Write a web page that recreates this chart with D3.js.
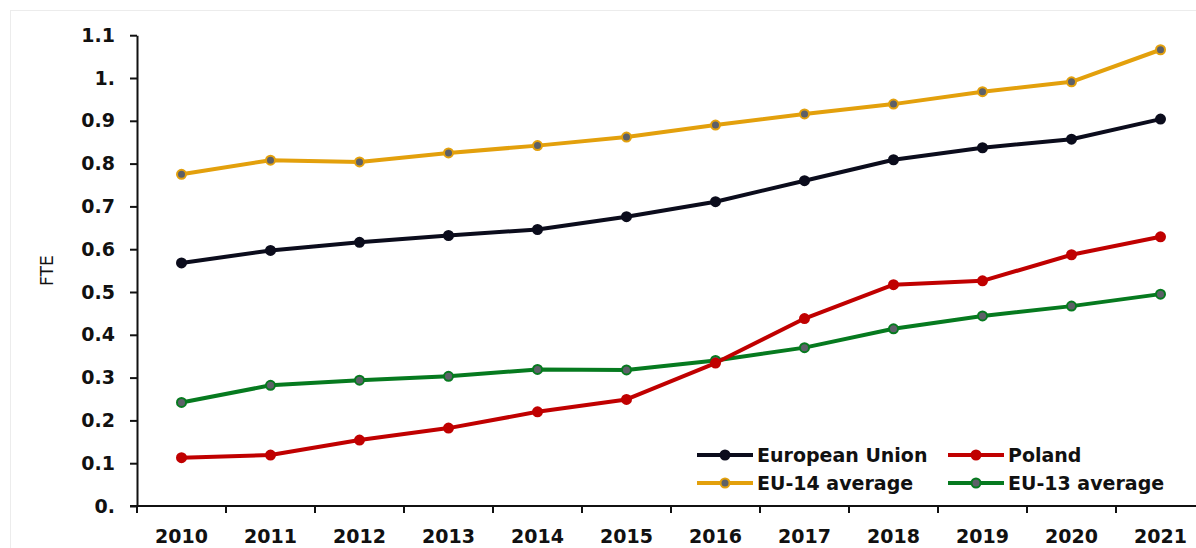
<!DOCTYPE html>
<html>
<head>
<meta charset="utf-8">
<script src="https://cdn.jsdelivr.net/npm/d3@7"></script>
<style>
  html, body { margin: 0; padding: 0; background: #fff; }
  svg { display: block; font-family: 'DejaVu Sans', sans-serif; }
</style>
</head>
<body>
<div class="chart"></div>
<script>
'use strict'

const years = ['2010', '2011', '2012', '2013', '2014', '2015', '2016', '2017', '2018', '2019', '2020', '2021']
const euValues = [0.568, 0.597, 0.616, 0.632, 0.646, 0.676, 0.711, 0.760, 0.809, 0.837, 0.857, 0.904]
const eu14Values = [0.775, 0.808, 0.804, 0.825, 0.842, 0.862, 0.890, 0.916, 0.939, 0.968, 0.991, 1.066]
const polandValues = [0.113, 0.119, 0.154, 0.182, 0.220, 0.249, 0.334, 0.438, 0.517, 0.526, 0.587, 0.629]
const eu13Values = [0.242, 0.282, 0.294, 0.303, 0.319, 0.318, 0.340, 0.370, 0.414, 0.444, 0.467, 0.495]
const yTicks = [0, 0.1, 0.2, 0.3, 0.4, 0.5, 0.6, 0.7, 0.8, 0.9, 1, 1.1]
const yTickLabels = ['0.', '0.1', '0.2', '0.3', '0.4', '0.5', '0.6', '0.7', '0.8', '0.9', '1.', '1.1']

const series = [
  { name: 'European Union', values: euValues, color: '#0b0c1c', fill: '#0b0c1c' },
  { name: 'Poland', values: polandValues, color: '#c00000', fill: '#c00000' },
  { name: 'EU-14 average', values: eu14Values, color: '#e3a00c', fill: '#5d6068' },
  { name: 'EU-13 average', values: eu13Values, color: '#067a1f', fill: '#5d6068' }
]

const width = 1196
const height = 548
const left = 137
const bottom = 506
const font = "'DejaVu Sans', sans-serif"

const svg = d3.select('.chart').append('svg')
    .attr('width', width)
    .attr('height', height)

// faint frame of the original picture
svg.append('rect')
    .attr('x', 10.5).attr('y', 10.5)
    .attr('width', width).attr('height', height)
    .attr('fill', 'none')
    .attr('stroke', '#ececec')

const x = d3.scaleBand()
    .domain(years)
    .range([ left, left + 12 * 89 ])

const y = d3.scaleLinear()
    .domain([ 0, 1.1 ])
    .range([ bottom, bottom - 1.1 * 428 ])

function styleText(sel) {
  sel.style('font-family', font)
    .style('font-size', '19px')
    .style('font-weight', 'bold')
    .style('fill', '#111')
}

// y axis
const yAxis = svg.append('g')
    .attr('transform', 'translate(' + left + ',0)')
    .call(d3.axisLeft(y)
      .tickValues(yTicks)
      .tickSize(7)
      .tickSizeOuter(0)
      .tickPadding(15)
      .tickFormat((d, i) => yTickLabels[i]))
yAxis.select('.domain').attr('stroke', '#111').attr('stroke-width', 2)
yAxis.selectAll('.tick line').attr('stroke', '#111').attr('stroke-width', 2)
yAxis.selectAll('text').call(styleText)

// x axis: labels centred in bands, ticks on band edges
const xAxis = svg.append('g')
    .attr('transform', 'translate(0,' + bottom + ')')
    .call(d3.axisBottom(x).tickSize(0).tickPadding(24))
xAxis.select('.domain').remove()
xAxis.selectAll('text').call(styleText)
xAxis.append('line')
    .attr('x1', left - 7).attr('x2', width)
    .attr('stroke', '#111').attr('stroke-width', 2)
xAxis.selectAll('.edge')
    .data(years)
  .enter().append('line')
    .attr('class', 'edge')
    .attr('x1', d => x(d)).attr('x2', d => x(d))
    .attr('y1', 0).attr('y2', 7)
    .attr('stroke', '#111').attr('stroke-width', 2)

// y axis title
svg.append('text')
    .attr('transform', 'translate(53,' + y(0.55) + ') rotate(-90)')
    .attr('text-anchor', 'middle')
    .style('font-family', font)
    .style('font-size', '17px')
    .style('fill', '#111')
    .text('FTE')

const cx = d => x(d) + x.bandwidth() / 2

const line = d3.line()
    .x((d, i) => cx(years[i]))
    .y(d => y(d))

// draw order: EU-14, EU, EU-13, Poland
const order = [ series[2], series[0], series[3], series[1] ]

order.forEach(function(s) {
  const g = svg.append('g')
  g.append('path')
      .datum(s.values)
      .attr('d', line)
      .attr('fill', 'none')
      .attr('stroke', s.color)
      .attr('stroke-width', 4)
      .attr('stroke-linejoin', 'round')
  g.selectAll('circle')
      .data(s.values)
    .enter().append('circle')
      .attr('cx', (d, i) => cx(years[i]))
      .attr('cy', d => y(d))
      .attr('r', 4.5)
      .attr('fill', s.fill)
      .attr('stroke', s.color)
      .attr('stroke-width', 2)
})

// legend
const legendPos = [
  { x: 697, y: 455 },
  { x: 948, y: 455 },
  { x: 697, y: 483 },
  { x: 948, y: 483 }
]

const legend = svg.append('g')
  .selectAll('g')
    .data(series)
  .enter().append('g')
    .attr('transform', (d, i) => 'translate(' + legendPos[i].x + ',' + legendPos[i].y + ')')

legend.append('line')
    .attr('x1', 0).attr('x2', 56)
    .attr('stroke', d => d.color)
    .attr('stroke-width', 4)
legend.append('circle')
    .attr('cx', 28)
    .attr('r', 4.5)
    .attr('fill', d => d.fill)
    .attr('stroke', d => d.color)
    .attr('stroke-width', 2)
legend.append('text')
    .attr('x', 60)
    .attr('dy', '0.36em')
    .call(styleText)
    .text(d => d.name)
</script>
</body>
</html>
